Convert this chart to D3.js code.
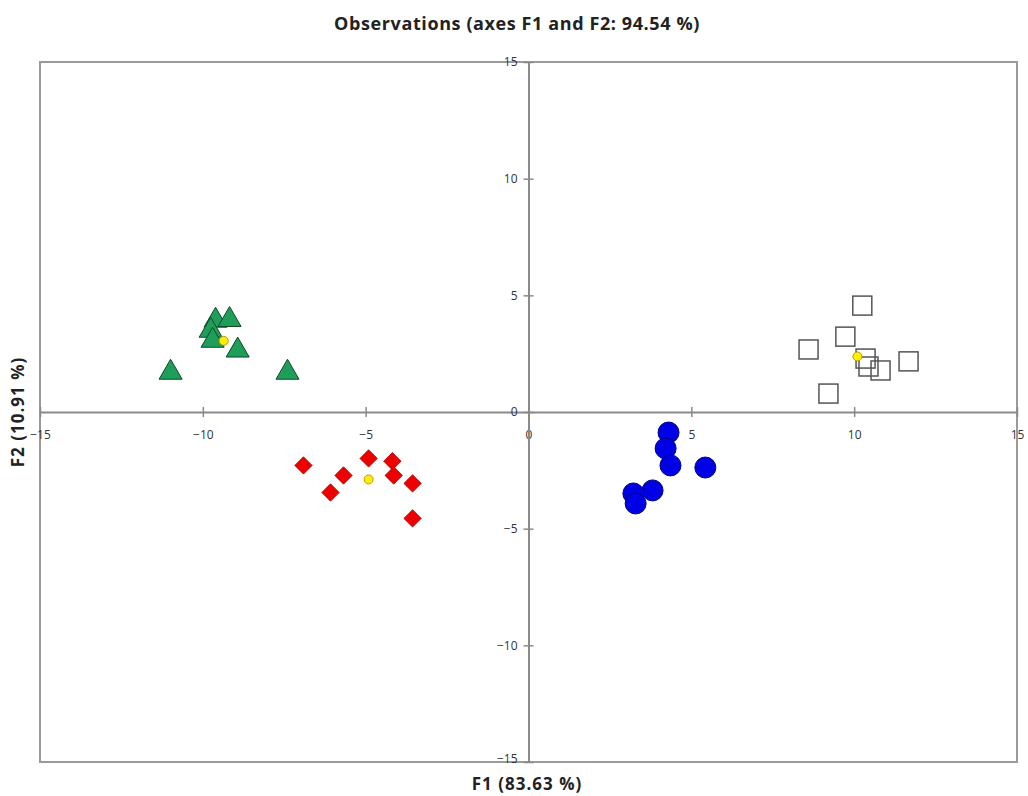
<!DOCTYPE html>
<html><head><meta charset="utf-8">
<script src="https://cdn.jsdelivr.net/npm/d3@7"></script>
<style>body{margin:0;background:#fff;}svg{display:block;}</style>
</head><body>
<svg id="c" width="1028" height="796"></svg>
<script>
const title = "Observations (axes F1 and F2: 94.54 %)";
const xLabel = "F1 (83.63 %)";
const yLabel = "F2 (10.91 %)";
const tickValues = [-15, -10, -5, 0, 5, 10, 15];

const greenF1 = [-10.99, -9.61, -9.18, -9.76, -9.70, -8.93, -7.40];
const greenF2 = [1.69, 3.92, 3.95, 3.49, 3.06, 2.64, 1.69];
const redF1 = [-6.91, -4.91, -4.18, -5.68, -6.08, -4.14, -3.56, -3.56];
const redF2 = [-2.29, -1.99, -2.11, -2.72, -3.45, -2.72, -3.06, -4.56];
const blueF1 = [4.30, 4.21, 4.36, 5.43, 3.81, 3.22, 3.29];
const blueF2 = [-0.88, -1.56, -2.29, -2.38, -3.36, -3.49, -3.92];
const squareF1 = [10.25, 9.73, 8.60, 10.35, 10.44, 10.81, 11.67, 9.21];
const squareF2 = [4.56, 3.23, 2.68, 2.29, 1.95, 1.78, 2.17, 0.79];
const centroidF1 = [-9.36, -4.91, 10.10];
const centroidF2 = [3.05, -2.89, 2.38];

const svg = d3.select("#c");
const L = 40, R = 1017, T = 62, B = 762;
const x = d3.scaleLinear().domain([-15, 15]).range([L, R]);
const y = d3.scaleLinear().domain([-15, 15]).range([B, T]);
const font = "'Open Sans', Lato, sans-serif";

svg.append("text").attr("x", 517).attr("y", 30).attr("text-anchor", "middle")
  .attr("font-family", font).attr("font-weight", "bold").attr("font-size", 18)
  .attr("letter-spacing", 0.6).attr("fill", "#222").text(title);

svg.append("rect").attr("x", L).attr("y", T).attr("width", R - L).attr("height", B - T)
  .attr("fill", "none").attr("stroke", "#9a9a9a").attr("stroke-width", 2);

// axes through origin
const xAxis = d3.axisBottom(x).tickValues(tickValues).tickSize(0).tickPadding(18).tickFormat(d3.format("d"));
const gx = svg.append("g").attr("transform", `translate(0,${y(0)})`).call(xAxis);
gx.select(".domain").attr("stroke", "#8a8a8a").attr("stroke-width", 2);
gx.selectAll("text").attr("font-family", font).attr("font-size", 12).attr("fill", "#333");
gx.selectAll(".tick").append("line").attr("y1", -5).attr("y2", 5).attr("stroke", "#8a8a8a").attr("stroke-width", 1.5);

const yAxis = d3.axisLeft(y).tickValues(tickValues).tickSize(0).tickPadding(11).tickFormat(d3.format("d"));
const gy = svg.append("g").attr("transform", `translate(${x(0)},0)`).call(yAxis);
gy.select(".domain").attr("stroke", "#8a8a8a").attr("stroke-width", 2);
gy.selectAll("text").attr("font-family", font).attr("font-size", 12).attr("fill", "#333");
gy.selectAll(".tick").append("line").attr("x1", -5).attr("x2", 5).attr("stroke", "#8a8a8a").attr("stroke-width", 1.5);
gy.selectAll(".tick").filter(d => d === -15).select("text").attr("dy", "0.05em");

function pts(a, b) { return a.map((v, i) => [v, b[i]]); }

// squares
svg.append("g").selectAll("rect").data(pts(squareF1, squareF2)).join("rect")
  .attr("x", d => x(d[0]) - 9.5).attr("y", d => y(d[1]) - 9.5).attr("width", 19).attr("height", 19)
  .attr("fill", "#fff").attr("fill-opacity", 0).attr("stroke", "#555").attr("stroke-width", 1.5);

// blue circles
svg.append("g").selectAll("circle").data(pts(blueF1, blueF2)).join("circle")
  .attr("cx", d => x(d[0])).attr("cy", d => y(d[1])).attr("r", 10.5)
  .attr("fill", "#0000e6").attr("stroke", "#00007a").attr("stroke-width", 1);

// red diamonds
svg.append("g").selectAll("path").data(pts(redF1, redF2)).join("path")
  .attr("d", d3.symbol(d3.symbolSquare, 150)())
  .attr("transform", d => `translate(${x(d[0])},${y(d[1])}) rotate(45)`)
  .attr("fill", "#ee0000").attr("stroke", "#b00000").attr("stroke-width", 0.8);

// green triangles
svg.append("g").selectAll("path").data(pts(greenF1, greenF2)).join("path")
  .attr("d", d3.symbol(d3.symbolTriangle, 230)())
  .attr("transform", d => `translate(${x(d[0])},${y(d[1])})`)
  .attr("fill", "#1f9e5a").attr("stroke", "#0b4a28").attr("stroke-width", 1);

// centroids
svg.append("g").selectAll("circle").data(pts(centroidF1, centroidF2)).join("circle")
  .attr("cx", d => x(d[0])).attr("cy", d => y(d[1])).attr("r", 4.5)
  .attr("fill", "#ffee00").attr("stroke", "#b89a00").attr("stroke-width", 1);

svg.append("text").attr("x", 527).attr("y", 790).attr("text-anchor", "middle")
  .attr("font-family", font).attr("font-weight", "bold").attr("font-size", 17)
  .attr("letter-spacing", 1).attr("fill", "#222").text(xLabel);

svg.append("text").attr("transform", "translate(24,412) rotate(-90)").attr("text-anchor", "middle")
  .attr("font-family", font).attr("font-weight", "bold").attr("font-size", 17)
  .attr("letter-spacing", 1).attr("fill", "#222").text(yLabel);
</script>
</body></html>
